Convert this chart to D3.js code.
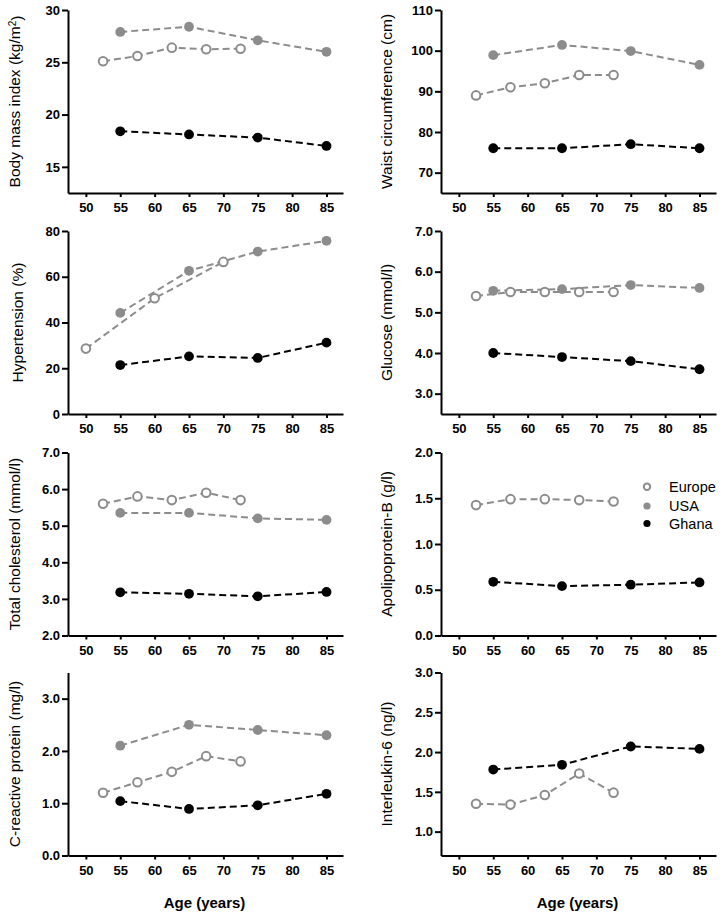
<!DOCTYPE html>
<html>
<head>
<meta charset="utf-8">
<script src="https://cdn.jsdelivr.net/npm/d3@7"></script>
<style>
  html, body { margin: 0; padding: 0; background: #fff; }
  svg { display: block; }
  text { font-family: "Liberation Sans", Arial, sans-serif; }
</style>
</head>
<body>
<svg id="chart" width="723" height="915"></svg>
<script>
// ---------- data ----------
const xTicks = [50, 55, 60, 65, 70, 75, 80, 85];
const ageEurope = [52.5, 57.5, 62.5, 67.5, 72.5];
const ageEuropeHyp = [50, 60, 70];
const ageUSAGhana = [55, 65, 75, 85];

const bmiEurope = [25.1, 25.6, 26.4, 26.25, 26.3];
const bmiUSA = [27.9, 28.4, 27.1, 26.0];
const bmiGhana = [18.4, 18.1, 17.8, 17.0];

const waistEurope = [89.0, 91.0, 92.0, 94.0, 94.0];
const waistUSA = [98.9, 101.4, 99.9, 96.5];
const waistGhana = [76.0, 76.0, 77.0, 76.0];

const hypEurope = [28.6, 50.6, 66.5];
const hypUSA = [44.2, 62.6, 71.0, 75.7];
const hypGhana = [21.4, 25.2, 24.5, 31.2];

const gluEurope = [5.40, 5.50, 5.50, 5.50, 5.50];
const gluUSA = [5.53, 5.57, 5.67, 5.60];
const gluGhana = [4.0, 3.9, 3.8, 3.6];

const cholEurope = [5.6, 5.8, 5.7, 5.9, 5.7];
const cholUSA = [5.35, 5.35, 5.2, 5.16];
const cholGhana = [3.18, 3.14, 3.07, 3.19];

const apoEurope = [1.425, 1.49, 1.49, 1.48, 1.465];
const apoGhana = [0.587, 0.54, 0.555, 0.58];

const crpEurope = [1.2, 1.4, 1.6, 1.9, 1.8];
const crpUSA = [2.1, 2.5, 2.4, 2.3];
const crpGhana = [1.04, 0.89, 0.96, 1.18];

const il6Europe = [1.35, 1.34, 1.46, 1.73, 1.49];
const il6Ghana = [1.78, 1.84, 2.07, 2.04];

const legendLabels = ["Europe", "USA", "Ghana"];

// ---------- panels ----------
const panels = [
  { title: "Body mass index (kg/m", sup: "2", suf: ")", domain: [12.5, 30], ticks: [15, 20, 25, 30], fmt: "d",
    eu: bmiEurope, euAge: ageEurope, usa: bmiUSA, gh: bmiGhana, col: 0, row: 0 },
  { title: "Waist circumference (cm)", domain: [65, 110], ticks: [70, 80, 90, 100, 110], fmt: "d",
    eu: waistEurope, euAge: ageEurope, usa: waistUSA, gh: waistGhana, col: 1, row: 0 },
  { title: "Hypertension (%)", domain: [0, 80], ticks: [0, 20, 40, 60, 80], fmt: "d",
    eu: hypEurope, euAge: ageEuropeHyp, usa: hypUSA, gh: hypGhana, col: 0, row: 1, tx: 23 },
  { title: "Glucose (mmol/l)", domain: [2.5, 7], ticks: [3, 4, 5, 6, 7], fmt: ".1f",
    eu: gluEurope, euAge: ageEurope, usa: gluUSA, gh: gluGhana, col: 1, row: 1 },
  { title: "Total cholesterol (mmol/l)", domain: [2, 7], ticks: [2, 3, 4, 5, 6, 7], fmt: ".1f",
    eu: cholEurope, euAge: ageEurope, usa: cholUSA, gh: cholGhana, col: 0, row: 2 },
  { title: "Apolipoprotein-B (g/l)", domain: [0, 2], ticks: [0, 0.5, 1, 1.5, 2], fmt: ".1f",
    eu: apoEurope, euAge: ageEurope, usa: null, gh: apoGhana, col: 1, row: 2, legend: true },
  { title: "C-reactive protein (mg/l)", domain: [0, 3.5], ticks: [0, 1, 2, 3], fmt: ".1f",
    eu: crpEurope, euAge: ageEurope, usa: crpUSA, gh: crpGhana, col: 0, row: 3, xlabel: true },
  { title: "Interleukin-6 (ng/l)", domain: [0.7, 3.0], ticks: [1, 1.5, 2, 2.5, 3], fmt: ".1f",
    eu: il6Europe, euAge: ageEurope, usa: null, gh: il6Ghana, col: 1, row: 3, xlabel: true }
];

const colLeft = [68, 441];
const rowTop = [10, 231, 452.5, 672.5];
const pw = 275, ph = 183;
const GRAY = "#8c8c8c";
const R = 4.9;

const svg = d3.select("#chart");

panels.forEach(p => {
  const g = svg.append("g").attr("transform", `translate(${colLeft[p.col]},${rowTop[p.row]})`);
  const x = d3.scaleLinear().domain([47.4, 87.4]).range([0, pw]);
  const y = d3.scaleLinear().domain(p.domain).range([ph, 0]);

  // axes
  const xa = g.append("g").attr("transform", `translate(0,${ph})`)
    .call(d3.axisBottom(x).tickValues(xTicks).tickSize(4).tickSizeOuter(0).tickPadding(6).tickFormat(d3.format("d")));
  const ya = g.append("g")
    .call(d3.axisLeft(y).tickValues(p.ticks).tickSize(6).tickSizeOuter(0).tickPadding(2).tickFormat(d3.format(p.fmt)));
  [xa, ya].forEach(a => {
    a.select(".domain").attr("stroke", "#000").attr("stroke-width", 2);
    a.selectAll(".tick line").attr("stroke", "#000").attr("stroke-width", 2);
    a.selectAll(".tick text").attr("fill", "#000")
      .style("font-size", "13px").style("font-weight", "bold")
      .style("font-family", '"Liberation Sans", Arial, sans-serif');
  });

  // title
  const tx = (p.col === 0 ? (p.tx || 20) : 392) - colLeft[p.col];
  const t = g.append("text")
    .attr("transform", `translate(${tx},${ph / 2}) rotate(-90)`)
    .attr("text-anchor", "middle")
    .style("font-size", "15.5px").attr("fill", "#000");
  t.append("tspan").text(p.title);
  if (p.sup) {
    t.append("tspan").attr("dy", "-0.45em").style("font-size", "10px").text(p.sup);
    t.append("tspan").attr("dy", "0.45em").text(p.suf);
  }

  const line = d3.line().x(d => x(d[0])).y(d => y(d[1]));
  const series = [];
  if (p.usa) series.push({ ages: ageUSAGhana, vals: p.usa, color: GRAY, type: "filled" });
  series.push({ ages: p.euAge, vals: p.eu, color: GRAY, type: "open" });
  series.push({ ages: ageUSAGhana, vals: p.gh, color: "#000", type: "filled" });

  series.forEach(s => {
    const pts = s.ages.map((a, i) => [a, s.vals[i]]);
    g.append("path").datum(pts).attr("d", line)
      .attr("fill", "none").attr("stroke", s.color).attr("stroke-width", 2)
      .attr("stroke-dasharray", "7,4");
  });
  series.forEach(s => {
    const pts = s.ages.map((a, i) => [a, s.vals[i]]);
    g.selectAll(null).data(pts).enter().append("circle")
      .attr("cx", d => x(d[0])).attr("cy", d => y(d[1]))
      .attr("r", s.type === "open" ? R - 0.6 : R)
      .attr("fill", s.type === "open" ? "#fff" : s.color)
      .attr("stroke", s.color).attr("stroke-width", s.type === "open" ? 2 : 0);
  });

  if (p.xlabel) {
    g.append("text").attr("x", pw / 2 - 1).attr("y", 908 - rowTop[p.row])
      .attr("text-anchor", "middle").style("font-size", "15px").style("font-weight", "bold")
      .attr("fill", "#000").text("Age (years)");
  }

  if (p.legend) {
    const lg = svg.append("g");
    const styles = [
      { fill: "#fff", stroke: GRAY, sw: 2, r: 3.2 },
      { fill: GRAY, stroke: GRAY, sw: 0, r: 3.6 },
      { fill: "#000", stroke: "#000", sw: 0, r: 3.6 }
    ];
    const ly = [486.7, 506, 523.5];
    legendLabels.forEach((lab, i) => {
      lg.append("circle").attr("cx", 647).attr("cy", ly[i]).attr("r", styles[i].r)
        .attr("fill", styles[i].fill).attr("stroke", styles[i].stroke).attr("stroke-width", styles[i].sw);
      lg.append("text").attr("x", 669).attr("y", ly[i]).attr("dy", "0.36em")
        .style("font-size", "14.5px").attr("fill", "#000").text(lab);
    });
  }
});
</script>
</body>
</html>
